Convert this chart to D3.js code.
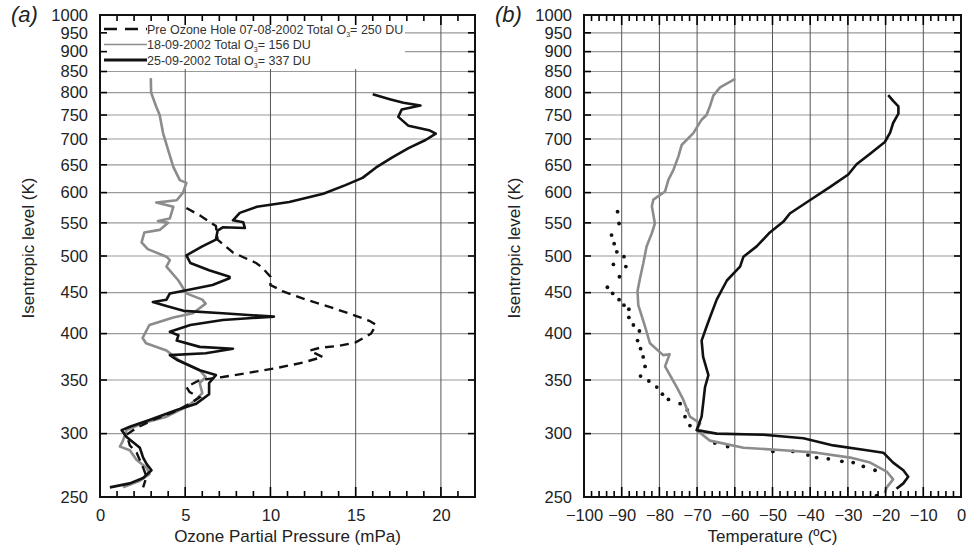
<!DOCTYPE html>
<html>
<head>
<meta charset="utf-8">
<script src="https://cdn.jsdelivr.net/npm/d3@7"></script>
<style>
  body { margin: 0; background: #fff; }
  svg text { font-family: "Liberation Sans", Arial, sans-serif; }
</style>
</head>
<body>
<svg width="973" height="553"></svg>
<script>
// niveis isentropicos (eixo y, escala log)
var levelTicks = [250, 300, 350, 400, 450, 500, 550, 600, 650, 700, 750, 800, 850, 900, 950, 1000];
var ozoneTicks = [0, 5, 10, 15, 20];
var tempTicks = [-100, -90, -80, -70, -60, -50, -40, -30, -20, -10, 0];

var legendLabels = ["Pre Ozone Hole 07-08-2002 Total O", "18-09-2002 Total O", "25-09-2002 Total O"];
var legendTotals = ["= 250 DU", "= 156 DU", "= 337 DU"];

// ozono [mPa, K]
var ozonePre = [[5.07,574],[5.85,562],[6.8,545],[6.9,524],[7.8,505],[9.16,490],[9.5,484],[10.0,471],[10.0,460],[10.7,452],[12.1,441],[13.6,431],[15.0,421],[15.8,415],[16.2,410],[15.9,400],[15.0,390],[14.0,386],[12.9,384],[12.3,381],[13.06,374],[11.9,368],[10.3,362],[8.6,357],[7.2,353],[5.85,350],[5.07,343],[5.26,338],[5.85,333],[5.26,327],[4.3,319],[3.1,312],[2.15,305],[1.56,299],[1.75,290],[2.15,284],[2.53,272],[2.73,265],[2.53,257]];
var ozone1809 = [[2.98,834],[3.0,800],[3.3,768],[3.5,750],[3.7,712],[4.0,678],[4.3,646],[4.68,622],[5.07,617],[4.87,600],[4.5,587],[3.3,583],[4.3,576],[4.1,557],[3.4,553],[4.0,550],[3.5,539],[2.6,535],[2.44,520],[2.8,510],[3.9,499],[4.1,494],[3.9,485],[4.6,466],[5.07,449],[6.0,441],[6.2,436],[5.45,424],[4.3,419],[2.9,410],[2.5,395],[2.7,389],[3.9,381],[4.68,370],[5.85,360],[6.2,353],[5.85,347],[6.0,337],[5.65,331],[5.07,324],[3.9,315],[2.5,309],[1.56,303],[1.35,294],[1.17,289],[1.75,286],[2.15,278],[2.73,272],[2.9,267],[2.34,262],[1.35,257]];
var ozone2509 = [[16.0,796],[17.0,785],[17.8,777],[18.8,771],[17.7,762],[17.5,746],[18.1,727],[19.3,718],[19.7,711],[19.1,698],[18.1,682],[17.15,664],[16.2,645],[15.4,626],[14.4,613],[13.1,598],[11.1,584],[9.2,576],[8.2,566],[7.8,554],[8.4,551],[8.5,542],[7.2,543],[6.9,538],[6.8,524],[6.0,514],[5.07,501],[5.3,490],[6.4,480],[7.6,471],[7.6,469],[6.6,460],[5.07,453],[4.1,449],[3.9,441],[3.1,438],[3.9,433],[4.9,427],[7.2,424],[10.2,420],[7.2,416],[5.3,410],[4.1,402],[4.6,398],[4.5,392],[5.85,385],[7.8,383],[6.2,378],[4.1,376],[4.5,371],[5.85,360],[6.8,355],[6.4,347],[6.4,336],[5.65,327],[4.5,321],[2.9,312],[1.75,306],[1.27,303],[1.56,297],[2.34,288],[2.53,280],[2.73,275],[3.02,270],[2.53,264],[1.75,260],[0.58,257]];

// temperatura [C, K]
var tempPre = [[-91.1,568],[-90.7,549],[-92.7,531],[-92.0,518],[-91.3,506],[-89.4,499],[-92.2,488],[-88.9,485],[-90.6,471],[-93.8,457],[-92.4,449],[-90.7,441],[-89.4,434],[-88.1,429],[-88.1,419],[-86.9,410],[-85.3,403],[-85.8,392],[-85.0,383],[-84.3,374],[-83.8,364],[-85.0,354],[-82.8,349],[-80.7,343],[-79.2,336],[-77.6,331],[-74.5,327],[-72.6,321],[-73.2,315],[-71.9,307],[-65.3,292],[-61.9,289],[-49.9,285],[-44.6,285],[-40.6,282],[-38.3,280],[-35.2,279],[-31.6,277],[-28.6,276],[-25.9,273],[-22.8,270],[-22.4,251]];
var temp1809 = [[-59.9,832],[-63.9,812],[-65.7,793],[-66.6,769],[-67.5,750],[-68.8,740],[-71.0,712],[-74.1,688],[-75.0,665],[-76.3,640],[-77.6,623],[-78.5,602],[-81.6,588],[-82.0,577],[-81.2,549],[-82.0,534],[-83.4,514],[-84.3,489],[-85.1,470],[-85.8,452],[-85.6,434],[-83.8,408],[-82.5,389],[-79.0,376],[-77.3,377],[-78.5,364],[-75.4,343],[-73.7,331],[-71.9,315],[-69.2,309],[-70.1,303],[-66.6,294],[-57.7,288],[-47.1,286],[-38.3,284],[-29.4,280],[-24.1,276],[-19.7,269],[-18.0,263],[-19.7,257],[-20.2,253]];
var temp2509 = [[-19.3,794],[-18.0,781],[-16.6,769],[-16.6,753],[-18.0,733],[-18.8,713],[-20.2,694],[-24.1,671],[-27.7,651],[-29.9,632],[-34.7,610],[-40.1,587],[-45.4,565],[-47.1,552],[-50.7,535],[-54.2,514],[-57.7,499],[-58.6,485],[-59.5,480],[-62.1,466],[-64.8,441],[-66.6,419],[-67.5,408],[-68.8,392],[-68.4,374],[-67.0,355],[-67.9,343],[-68.4,327],[-68.8,315],[-70.1,303],[-64.8,300],[-52.4,299],[-41.8,296],[-33.9,290],[-25.0,286],[-20.6,284],[-18.0,276],[-15.3,270],[-14.0,265],[-15.3,260],[-17.1,256]];

var svg = d3.select("svg");

/*
  Painel generico: grelha e labels
*/
function panel(opt) {
    var x = d3.scaleLinear().domain(opt.xDomain).range([opt.left, opt.right]);
    var y = d3.scaleLog().domain([250, 1000]).range([opt.bottom, opt.top]);
    var g = svg.append("g");

    // grelha horizontal
    g.append("g").selectAll("line")
        .data(levelTicks.filter(function(d) { return d > 250 && d < 1000; }))
        .enter().append("line")
        .attr("x1", opt.left).attr("x2", opt.right)
        .attr("y1", function(d) { return y(d); }).attr("y2", function(d) { return y(d); })
        .attr("stroke", "#9a9a9a").attr("stroke-width", 1.2);

    // grelha vertical
    g.append("g").selectAll("line")
        .data(opt.grid)
        .enter().append("line")
        .attr("x1", function(d) { return x(d); }).attr("x2", function(d) { return x(d); })
        .attr("y1", opt.bottom).attr("y2", opt.top)
        .attr("stroke", "#555").attr("stroke-width", 1);

    // labels dos eixos (d3 axis, sem linhas)
    var bottomAx = d3.axisBottom(x).tickValues(opt.xTicks).tickSize(0).tickPadding(12).tickFormat(d3.format("d"));
    var leftAx = d3.axisLeft(y).tickValues(levelTicks).tickSize(0).tickPadding(12).tickFormat(d3.format("d"));
    [[bottomAx, "translate(0," + opt.bottom + ")"], [leftAx, "translate(" + opt.left + ",0)"]].forEach(function(a) {
        var ax = g.append("g").attr("transform", a[1]).call(a[0]);
        ax.select(".domain").remove();
        ax.selectAll("text").attr("font-size", 16.5).attr("fill", "#222")
            .attr("font-family", "Liberation Sans, Arial, sans-serif");
    });

    return {g: g, x: x, y: y};
}

/*
  Ticks para dentro nas 4 bordas + frame (desenhado no fim, por cima de tudo)
*/
function frame(opt) {
    var x = d3.scaleLinear().domain(opt.xDomain).range([opt.left, opt.right]);
    var y = d3.scaleLog().domain([250, 1000]).range([opt.bottom, opt.top]);
    var nMinor = Math.round((opt.xDomain[1] - opt.xDomain[0]) / opt.minorStep);
    var segs = [];
    for (var i = 0; i <= nMinor; i++) {
        var v = opt.xDomain[0] + i * opt.minorStep;
        var len = opt.xTicks.indexOf(v) > -1 ? 10 : 6;
        var px = x(v);
        segs.push([px, opt.bottom, px, opt.bottom - len]);
        segs.push([px, opt.top, px, opt.top + len]);
    }
    levelTicks.forEach(function(d) {
        segs.push([opt.left, y(d), opt.left + 7, y(d)]);
        segs.push([opt.right, y(d), opt.right - 7, y(d)]);
    });

    svg.append("g").selectAll("line")
        .data(segs)
        .enter().append("line")
        .attr("x1", function(d) { return d[0]; }).attr("y1", function(d) { return d[1]; })
        .attr("x2", function(d) { return d[2]; }).attr("y2", function(d) { return d[3]; })
        .attr("stroke", "#000").attr("stroke-width", 1.6);

    svg.append("rect")
        .attr("x", opt.left).attr("y", opt.top)
        .attr("width", opt.right - opt.left).attr("height", opt.bottom - opt.top)
        .attr("fill", "none").attr("stroke", "#111").attr("stroke-width", 2);
}

function titles(opt) {
    svg.append("text")
        .attr("x", opt.tagX).attr("y", 22)
        .attr("font-family", "Liberation Serif, serif").attr("font-style", "italic")
        .attr("font-size", 22).attr("fill", "#222")
        .text(opt.tag);
    svg.append("text")
        .attr("transform", "translate(" + opt.yTitleX + ",248) rotate(-90)")
        .attr("text-anchor", "middle").attr("font-size", 17).attr("fill", "#222")
        .text("Isentropic level (K)");
    svg.append("text")
        .attr("x", (opt.left + opt.right) / 2).attr("y", 542)
        .attr("text-anchor", "middle").attr("font-size", 17).attr("fill", "#222")
        .text(opt.xTitle);
}

/*
  Painel (a) - ozono
*/
var optA = {left: 100, right: 475, top: 15, bottom: 497, xDomain: [0, 22], xTicks: ozoneTicks,
    grid: [5, 10, 15, 20], minorStep: 1, tag: "(a)", tagX: 11, yTitleX: 34,
    xTitle: "Ozone Partial Pressure (mPa)"};
var pa = panel(optA);

// caixa da legenda tapa a grelha
pa.g.append("rect").attr("x", 101).attr("y", 16).attr("width", 304).attr("height", 53).attr("fill", "#fff");

var lineA = d3.line().x(function(d) { return pa.x(d[0]); }).y(function(d) { return pa.y(d[1]); });

pa.g.append("path").datum(ozone1809).attr("d", lineA)
    .attr("fill", "none").attr("stroke", "#8c8c8c").attr("stroke-width", 2.6).attr("stroke-linejoin", "round");
pa.g.append("path").datum(ozonePre).attr("d", lineA)
    .attr("fill", "none").attr("stroke", "#111").attr("stroke-width", 2.4).attr("stroke-dasharray", "9,6");
pa.g.append("path").datum(ozone2509).attr("d", lineA)
    .attr("fill", "none").attr("stroke", "#111").attr("stroke-width", 2.6).attr("stroke-linejoin", "round");

titles(optA);

// legenda
var legStyles = [
    {stroke: "#111", width: 2.6, dash: "13,8"},
    {stroke: "#8c8c8c", width: 1.6, dash: null},
    {stroke: "#111", width: 3, dash: null}
];
var leg = pa.g.append("g").selectAll("g")
    .data(legendLabels)
    .enter().append("g")
    .attr("transform", function(d, i) { return "translate(0," + (29 + i * 15.5) + ")"; });
leg.append("line")
    .attr("x1", 104).attr("x2", 147).attr("y1", 0).attr("y2", 0)
    .attr("stroke", function(d, i) { return legStyles[i].stroke; })
    .attr("stroke-width", function(d, i) { return legStyles[i].width; })
    .attr("stroke-dasharray", function(d, i) { return legStyles[i].dash; });
var legText = leg.append("text")
    .attr("x", 147).attr("y", 4.5)
    .attr("font-size", 12.5).attr("fill", "#333");
legText.append("tspan").text(function(d) { return d; });
legText.append("tspan").attr("font-size", 7).attr("dy", 3).text("3");
legText.append("tspan").attr("dy", -3).text(function(d, i) { return legendTotals[i]; });

/*
  Painel (b) - temperatura
*/
var optB = {left: 584, right: 961, top: 15, bottom: 497, xDomain: [-100, 0], xTicks: tempTicks,
    grid: tempTicks.slice(1, -1), minorStep: 2, tag: "(b)", tagX: 495, yTitleX: 520,
    xTitle: "Temperature (\u00baC)"};
var pb = panel(optB);

var lineB = d3.line().x(function(d) { return pb.x(d[0]); }).y(function(d) { return pb.y(d[1]); });

pb.g.append("g").selectAll("circle")
    .data(tempPre)
    .enter().append("circle")
    .attr("cx", function(d) { return pb.x(d[0]); })
    .attr("cy", function(d) { return pb.y(d[1]); })
    .attr("r", 1.9).attr("fill", "#111");
pb.g.append("path").datum(temp1809).attr("d", lineB)
    .attr("fill", "none").attr("stroke", "#8c8c8c").attr("stroke-width", 2.6).attr("stroke-linejoin", "round");
pb.g.append("path").datum(temp2509).attr("d", lineB)
    .attr("fill", "none").attr("stroke", "#111").attr("stroke-width", 2.6).attr("stroke-linejoin", "round");

titles(optB);

// ticks e molduras por cima
frame(optA);
frame(optB);
</script>
</body>
</html>
